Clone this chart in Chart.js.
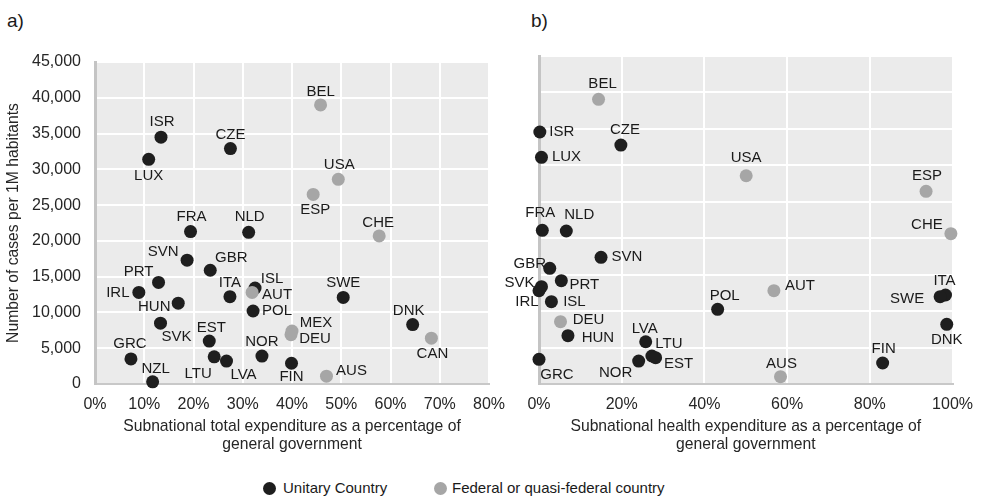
<!DOCTYPE html>
<html>
<head>
<meta charset="utf-8">
<script src="https://cdn.jsdelivr.net/npm/chart.js@4.4.1/dist/chart.umd.min.js"></script>
<style>
  body { margin: 0; width: 984px; height: 498px; background: #fff; position: relative; overflow: hidden;
         font-family: "Liberation Sans", Arial, sans-serif; color: #1a1a1a; }
  .box { position: absolute; }
  .tag { position: absolute; font-size: 19px; line-height: 22px; }
  #legend { position: absolute; top: 479px; left: 0; width: 984px; height: 20px; font-size: 15px; }
  #legend span { position: absolute; top: 0; line-height: 18px; white-space: nowrap; }
  #legend i { position: absolute; top: 3px; width: 13px; height: 13px; border-radius: 50%; }
</style>
</head>
<body>
<div class="tag" style="left:7px;top:10px">a)</div>
<div class="tag" style="left:531px;top:10px">b)</div>
<div class="box" style="left:0;top:0;width:520px;height:460px"><canvas id="chartA"></canvas></div>
<div class="box" style="left:490px;top:0;width:494px;height:460px"><canvas id="chartB"></canvas></div>
<div id="legend">
  <i style="left:263px;background:#1e1e1e"></i><span style="left:283px">Unitary Country</span>
  <i style="left:434px;background:#a6a6a6"></i><span style="left:452px">Federal or quasi-federal country</span>
</div>
<script>
// panel a) subnational total expenditure (% of general government) vs cases per 1M
const countriesA = ['BEL','ISR','CZE','LUX','USA','ESP','FRA','NLD','CHE','SVN','GBR','PRT','IRL','ISL','AUT','ITA',
  'SWE','HUN','POL','SVK','DNK','MEX','DEU','CAN','EST','LTU','LVA','NOR','GRC','FIN','AUS','NZL'];
const totalExpShare = [45.8,13.4,27.5,10.9,49.4,44.3,19.4,31.2,57.7,18.7,23.4,12.9,8.9,32.5,31.9,27.4,
  50.4,16.9,32.1,13.3,64.5,40.0,39.8,68.3,23.2,24.2,26.7,33.9,7.3,39.9,47.0,11.7];
const casesA = [39000,34500,32900,31400,28600,26500,21300,21200,20700,17300,15900,14200,12800,13400,12800,12200,
  12100,11300,10200,8500,8300,7400,6900,6400,6000,3800,3200,3900,3500,2900,1100,300];

// panel b) subnational health expenditure (% of general government) vs cases per 1M
const countriesB = ['BEL','ISR','CZE','LUX','USA','ESP','FRA','NLD','CHE','SVN','GBR','PRT','SVK','IRL','ISL','AUT',
  'POL','ITA','SWE','DEU','HUN','DNK','LVA','LTU','EST','NOR','GRC','AUS','FIN'];
const healthExpShare = [14.4,0.2,19.8,0.6,50.1,93.6,0.8,6.6,99.6,15.0,2.6,5.4,0.6,0.0,3.0,56.8,
  43.2,98.3,97.0,5.2,7.0,98.6,25.8,27.3,28.2,24.1,0.0,58.4,83.1];
const casesB = [39050,34570,32780,31100,28570,26430,21080,20990,20620,17380,15870,14170,13350,12800,11290,12800,
  10250,12210,11980,8550,6630,8190,5800,3840,3610,3150,3390,1000,2880];

const federalCountries = ['BEL','USA','ESP','CHE','AUT','MEX','DEU','CAN','AUS'];

// label placement relative to the dot, in px
const labelOffsetA = {
  BEL:[0,-13], ISR:[1,-15], CZE:[0,-14], LUX:[0,17], USA:[1,-14], ESP:[2,15], FRA:[1,-15], NLD:[1,-15],
  CHE:[-1,-13], SVN:[-24,-8], GBR:[21,-12], PRT:[-20,-11], IRL:[-21,0], ISL:[17,-9], AUT:[25,2], ITA:[0,-14],
  SWE:[0,-15], HUN:[-24,4], POL:[24,0], SVK:[16,14], DNK:[-4,-14], MEX:[24,-8], DEU:[24,4], CAN:[1,16],
  EST:[2,-13], LTU:[-16,17], LVA:[17,14], NOR:[0,-14], GRC:[-1,-15], FIN:[0,14], AUS:[25,-5], NZL:[3,-13]
};
const labelOffsetB = {
  BEL:[4,-16], ISR:[22,0], CZE:[4,-15], LUX:[25,0], USA:[0,-18], ESP:[1,-15], FRA:[-2,-17], NLD:[13,-16],
  CHE:[-24,-9], SVN:[26,0], GBR:[-20,-4], PRT:[23,4], SVK:[-22,-4], IRL:[-12,11], ISL:[23,0], AUT:[26,-5],
  POL:[7,-13], ITA:[-1,-14], SWE:[-33,2], DEU:[28,-2], HUN:[30,2], DNK:[0,16], LVA:[-1,-13], LTU:[17,-12],
  EST:[23,6], NOR:[-23,12], GRC:[18,16], AUS:[1,-13], FIN:[1,-14]
};

const DARK = '#1e1e1e';
const GREY = '#a6a6a6';
const FONT = '"Liberation Sans", Arial, sans-serif';

function buildSets(names, xs, ys) {
  const unitary = [], federal = [];
  names.forEach((n, i) => {
    const p = { x: xs[i], y: ys[i], name: n };
    (federalCountries.includes(n) ? federal : unitary).push(p);
  });
  const common = { pointRadius: 6.5, pointHoverRadius: 6.5, borderWidth: 0, clip: false };
  return [
    { label: 'Federal or quasi-federal country', data: federal, backgroundColor: GREY, pointBackgroundColor: GREY, ...common },
    { label: 'Unitary Country', data: unitary, backgroundColor: DARK, pointBackgroundColor: DARK, ...common }
  ];
}

const plotBackground = {
  id: 'plotBackground',
  beforeDraw(chart) {
    const a = chart.chartArea;
    chart.ctx.save();
    chart.ctx.fillStyle = '#ebebeb';
    chart.ctx.fillRect(a.left, a.top, a.right - a.left, a.bottom - a.top);
    chart.ctx.restore();
  }
};

const pointLabels = {
  id: 'pointLabels',
  afterDatasetsDraw(chart, args, opts) {
    const ctx = chart.ctx;
    ctx.save();
    ctx.font = '15px ' + FONT;
    ctx.fillStyle = '#1a1a1a';
    ctx.textAlign = 'center';
    ctx.textBaseline = 'middle';
    chart.data.datasets.forEach((ds, i) => {
      chart.getDatasetMeta(i).data.forEach((pt, j) => {
        const name = ds.data[j].name;
        const off = opts.offsets[name] || [0, -14];
        ctx.fillText(name, pt.x + off[0], pt.y + off[1]);
      });
    });
    ctx.restore();
  }
};

function makeChart(id, datasets, opt) {
  return new Chart(document.getElementById(id), {
    type: 'scatter',
    data: { datasets },
    plugins: [plotBackground, pointLabels],
    options: {
      responsive: true,
      maintainAspectRatio: false,
      animation: false,
      layout: { padding: opt.padding },
      plugins: {
        legend: { display: false },
        tooltip: { enabled: false },
        pointLabels: { offsets: opt.offsets }
      },
      scales: {
        x: {
          min: 0, max: opt.xMax,
          ticks: { stepSize: opt.xStep, padding: 11, color: '#262626', font: { family: FONT, size: 16 },
                   callback: v => v + '%' },
          grid: { color: '#ffffff', lineWidth: 2, drawTicks: false },
          border: { color: '#c8c8c8', width: 2 },
          title: { display: true, text: opt.xTitle, color: '#262626', padding: { top: 0, bottom: 6 },
                   font: { family: FONT, size: 15.7, lineHeight: 18 / 15.7 } },
          afterFit: s => { s.height = 76; }
        },
        y: {
          min: 0, max: 45000,
          ticks: { stepSize: 5000, padding: 14, display: opt.yTicks, color: '#262626', font: { family: FONT, size: 16 },
                   callback: v => v.toLocaleString('en-US') },
          grid: { color: '#ffffff', lineWidth: 2, drawTicks: false },
          border: { color: '#c4c4c4', width: 3 },
          title: { display: opt.yTicks, text: 'Number of cases per 1M habitants', color: '#262626', padding: { top: 5, bottom: 0 },
                   font: { family: FONT, size: 15.7, lineHeight: 18 / 15.7 } },
          afterFit: s => { s.width = opt.yWidth; }
        }
      }
    }
  });
}

makeChart('chartA', buildSets(countriesA, totalExpShare, casesA), {
  padding: { top: 62, right: 31, bottom: 0, left: 0 },
  xMax: 80, xStep: 10, yTicks: true, yWidth: 95, offsets: labelOffsetA,
  xTitle: ['Subnational total expenditure as a percentage of', 'general government']
});

makeChart('chartB', buildSets(countriesB, healthExpShare, casesB), {
  padding: { top: 56, right: 29, bottom: 0, left: 0 },
  xMax: 100, xStep: 20, yTicks: false, yWidth: 49, offsets: labelOffsetB,
  xTitle: ['Subnational health expenditure as a percentage of', 'general government']
});
</script>
</body>
</html>
